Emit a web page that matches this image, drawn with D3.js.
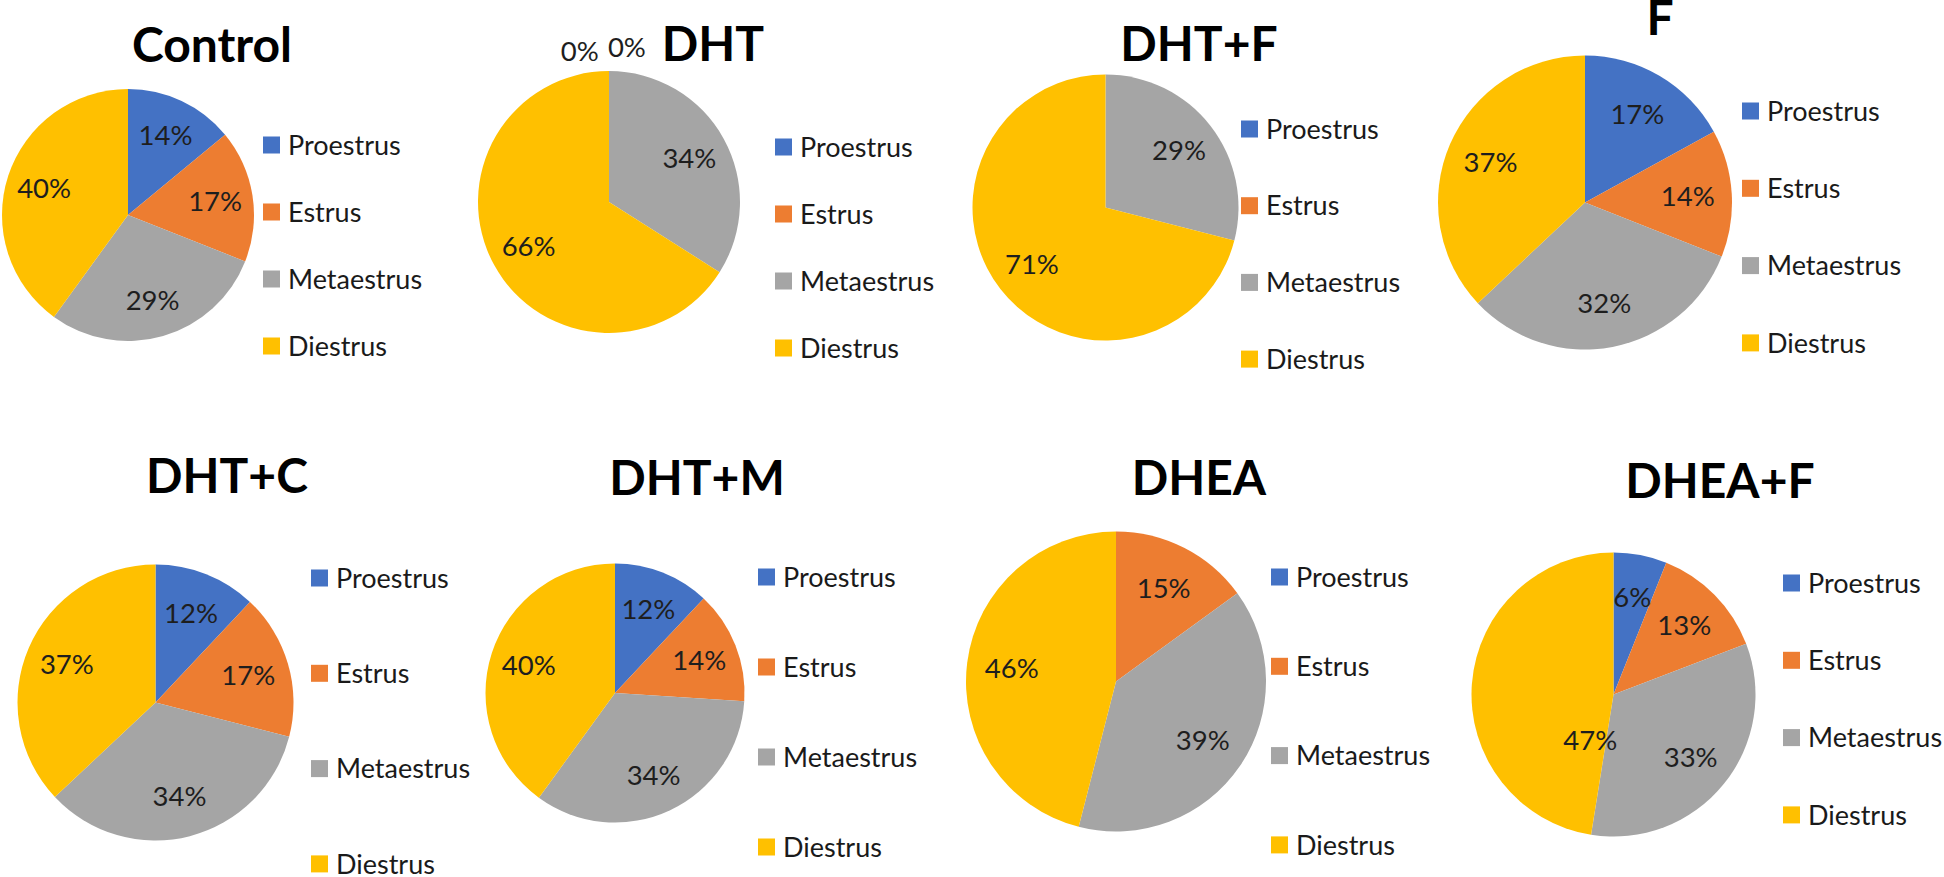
<!DOCTYPE html>
<html>
<head>
<meta charset="utf-8">
<script src="https://cdn.jsdelivr.net/npm/d3@7"></script>
<style>
  html, body { margin: 0; padding: 0; background: #ffffff; }
  svg { display: block; }
</style>
</head>
<body>
<svg id="chart" width="1944" height="877"></svg>
<script>
// ---------------- DATA ----------------
const groups = ["Control", "DHT", "DHT+F", "F", "DHT+C", "DHT+M", "DHEA", "DHEA+F"];
const categories = ["Proestrus", "Estrus", "Metaestrus", "Diestrus"];
const proestrus  = [14, 0, 0, 17, 12, 12, 0, 6];
const estrus     = [17, 0, 0, 14, 17, 14, 15, 13];
const metaestrus = [29, 34, 29, 32, 34, 34, 39, 33];
const diestrus   = [40, 66, 71, 37, 37, 40, 46, 47];
// whether zero-valued slices still carry a "0%" label
const showZeroLabels = [false, true, false, false, false, false, false, false];

// ---------------- STYLE / LAYOUT ----------------
const colors = ["#4472C4", "#ED7D31", "#A5A5A5", "#FFC000"];

// panel layout: title centre & baseline, pie centre & radius, legend placement
const layout = [
  { tx: 212,  ty: 62,  cx: 128,    cy: 215,   r: 126,   lx: 263,  ly: 145, ls: 67 },
  { tx: 713,  ty: 61,  cx: 609,    cy: 202,   r: 131,   lx: 775,  ly: 147, ls: 67 },
  { tx: 1199, ty: 61,  cx: 1105.5, cy: 207.5, r: 133,   lx: 1241, ly: 129, ls: 76.7 },
  { tx: 1660, ty: 35,  cx: 1585,   cy: 202.5, r: 147,   lx: 1742, ly: 111, ls: 77.3 },
  { tx: 227,  ty: 493, cx: 155.5,  cy: 702.5, r: 138,   lx: 311,  ly: 578, ls: 95.3 },
  { tx: 697,  ty: 495, cx: 615,    cy: 693,   r: 129.5, lx: 758,  ly: 577, ls: 90 },
  { tx: 1199, ty: 495, cx: 1116,   cy: 681.5, r: 150,   lx: 1271, ly: 577, ls: 89.3 },
  { tx: 1720, ty: 498, cx: 1613.5, cy: 694.5, r: 142,   lx: 1783, ly: 583, ls: 77.3 }
];
// label placements that the original chart moved away from the slice middle
// (angle in degrees clockwise from 12 o'clock, radius as fraction of pie radius)
const labelAdjust = [
  { group: "DHT",    cat: "Proestrus", angle: -11,  rf: 1.17 },
  { group: "DHT",    cat: "Estrus",    angle: 6.6,  rf: 1.19 },
  { group: "DHEA+F", cat: "Diestrus",  angle: 207,  rf: 0.36 }
];

const labelRf = 0.70;
const fontFamily = "Lato, 'Open Sans', 'Liberation Sans', sans-serif";

// ---------------- DRAW ----------------
const svg = d3.select("#chart");
svg.append("rect").attr("width", 1944).attr("height", 877).attr("fill", "#ffffff");

const color = d3.scaleOrdinal().domain(categories).range(colors);
const pie = d3.pie().sort(null).value(d => d.value).startAngle(0).endAngle(2 * Math.PI);

groups.forEach((g, i) => {
  const L = layout[i];
  const vals = [proestrus[i], estrus[i], metaestrus[i], diestrus[i]];
  const data = categories.map((c, k) => ({ cat: c, value: vals[k] }));
  const arcs = pie(data);

  const panel = svg.append("g").attr("class", "panel");

  // title
  panel.append("text")
    .attr("x", L.tx).attr("y", L.ty)
    .attr("text-anchor", "middle")
    .attr("font-family", fontFamily)
    .attr("font-weight", 700)
    .attr("font-size", 48)
    .attr("fill", "#000000")
    .text(g);

  const pg = panel.append("g").attr("transform", `translate(${L.cx},${L.cy})`);
  const arc = d3.arc().innerRadius(0).outerRadius(L.r);
  const labelArc = d3.arc().innerRadius(L.r * labelRf).outerRadius(L.r * labelRf);

  pg.selectAll("path.slice")
    .data(arcs.filter(d => d.data.value > 0))
    .join("path")
    .attr("class", "slice")
    .attr("d", arc)
    .attr("fill", d => color(d.data.cat));

  // data labels
  const labelled = arcs.filter(d => d.data.value > 0 || showZeroLabels[i]);
  pg.selectAll("text.lbl")
    .data(labelled)
    .join("text")
    .attr("class", "lbl")
    .attr("transform", d => {
      const adj = labelAdjust.find(a => a.group === g && a.cat === d.data.cat);
      if (adj) {
        const a = adj.angle * Math.PI / 180;
        const rr = adj.rf * L.r;
        return `translate(${rr * Math.sin(a)},${-rr * Math.cos(a)})`;
      }
      const c = labelArc.centroid(d);
      return `translate(${c[0]},${c[1]})`;
    })
    .attr("text-anchor", "middle")
    .attr("dy", "0.36em")
    .attr("font-family", fontFamily)
    .attr("font-size", 27.5)
    .attr("fill", "#1e1e1e")
    .text(d => d3.format(".0%")(d.data.value / 100));

  // legend
  const lg = panel.append("g").attr("transform", `translate(${L.lx},${L.ly})`);
  const items = lg.selectAll("g.item")
    .data(categories)
    .join("g")
    .attr("class", "item")
    .attr("transform", (d, k) => `translate(0,${k * L.ls})`);
  items.append("rect")
    .attr("x", 0).attr("y", -8.5)
    .attr("width", 17).attr("height", 17)
    .attr("fill", d => color(d));
  items.append("text")
    .attr("x", 25).attr("y", 0)
    .attr("dy", "0.36em")
    .attr("font-family", fontFamily)
    .attr("font-size", 27)
    .attr("fill", "#1a1a1a")
    .text(d => d);
});
</script>
</body>
</html>
